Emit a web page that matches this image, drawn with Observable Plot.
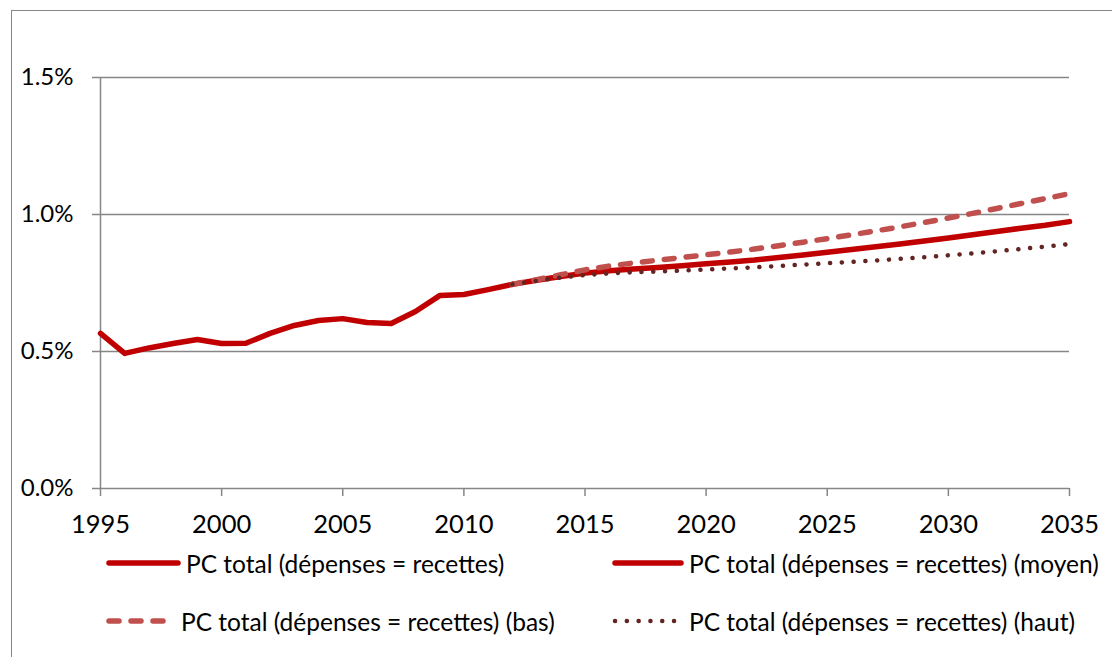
<!DOCTYPE html>
<html>
<head>
<meta charset="utf-8">
<script src="https://cdn.jsdelivr.net/npm/d3@7"></script>
<script src="https://cdn.jsdelivr.net/npm/@observablehq/plot@0.6"></script>
<style>
  html, body { margin: 0; padding: 0; background: #fff; }
  body { width: 1112px; height: 657px; position: relative; overflow: hidden; font-family: Lato, "Open Sans", sans-serif; }
  #frame { position: absolute; left: 11px; top: 10px; width: 1110px; height: 660px; border: 1.5px solid #868686; box-sizing: border-box; }
  #chart { position: absolute; left: 0; top: 0; }
  .leg { position: absolute; display: flex; align-items: center; font-size: 24.5px; color: #000; white-space: nowrap; }
  .leg svg { display: block; margin-right: 4px; }
</style>
</head>
<body>
<div id="frame"></div>
<div id="chart"></div>
<div id="legend"></div>
<script>
// ---- data (values in % of GDP) ----
const yearsHist = [1995,1996,1997,1998,1999,2000,2001,2002,2003,2004,2005,2006,2007,2008,2009,2010,2011,2012];
const valuesHist = [0.566,0.493,0.513,0.529,0.544,0.529,0.530,0.566,0.595,0.613,0.620,0.606,0.602,0.646,0.704,0.708,0.726,0.745];

const yearsProj = [2012,2013,2014,2015,2016,2017,2018,2019,2020,2021,2022,2023,2024,2025,2026,2027,2028,2029,2030,2031,2032,2033,2034,2035];
const valuesMoyen = [0.745,0.760,0.774,0.786,0.795,0.801,0.807,0.813,0.820,0.827,0.834,0.843,0.852,0.862,0.872,0.882,0.892,0.903,0.914,0.926,0.938,0.950,0.961,0.974];
const valuesBas = [0.745,0.762,0.780,0.798,0.812,0.823,0.833,0.843,0.853,0.863,0.874,0.886,0.899,0.912,0.926,0.940,0.955,0.971,0.987,1.004,1.022,1.040,1.058,1.076];
const valuesHaut = [0.745,0.758,0.770,0.779,0.785,0.789,0.792,0.795,0.799,0.803,0.807,0.812,0.817,0.822,0.827,0.832,0.838,0.844,0.851,0.858,0.866,0.874,0.883,0.892];

const xTicks = [1995,2000,2005,2010,2015,2020,2025,2030,2035];
const yTicks = [0, 0.5, 1.0, 1.5];
const gridValues = [0.5, 1.0, 1.5];

const seriesNames = [
  "PC total (dépenses = recettes)",
  "PC total (dépenses = recettes) (moyen)",
  "PC total (dépenses = recettes) (bas)",
  "PC total (dépenses = recettes) (haut)"
];

const hist = yearsHist.map((y, i) => ({year: y, value: valuesHist[i]}));
const moyen = yearsProj.map((y, i) => ({year: y, value: valuesMoyen[i]}));
const bas = yearsProj.map((y, i) => ({year: y, value: valuesBas[i]}));
const haut = yearsProj.map((y, i) => ({year: y, value: valuesHaut[i]}));

const grey = "#868686";
const cSolid = "#C00000";
const cBas = "#C0504D";
const cHaut = "#632523";

const plot = Plot.plot({
  width: 1112,
  height: 540,
  marginLeft: 100,
  marginRight: 43,
  marginTop: 77,
  marginBottom: 52,
  style: { fontFamily: "Lato, 'Open Sans', sans-serif", fontSize: "24px", color: "#000", background: "transparent", overflow: "visible" },
  x: { domain: [1995, 2035] },
  y: { domain: [0, 1.5] },
  marks: [
    Plot.ruleY(gridValues, { stroke: grey, strokeWidth: 1.5 }),
    Plot.ruleX([1995], { y1: 0, y2: 1.5, stroke: grey, strokeWidth: 1.5 }),
    Plot.ruleY([0], { stroke: grey, strokeWidth: 1.5 }),
    Plot.axisX({ ticks: xTicks, tickFormat: d => String(d), tickSize: 8, tickPadding: 18, stroke: grey, strokeWidth: 1.5, fill: "#000", label: null, fontSize: 25.5 }),
    Plot.axisY({ ticks: yTicks, tickFormat: d => d.toFixed(1) + "%", tickSize: 8, tickPadding: 19, stroke: grey, strokeWidth: 1.5, fill: "#000", label: null, fontSize: 24 }),
    Plot.line(hist, { x: "year", y: "value", stroke: cSolid, strokeWidth: 5.5, strokeLinejoin: "round" }),
    Plot.line(moyen, { x: "year", y: "value", stroke: cSolid, strokeWidth: 5.5, strokeLinejoin: "round" }),
    Plot.line(bas, { x: "year", y: "value", stroke: cBas, strokeWidth: 5.5, strokeLinecap: "round", strokeDasharray: "10,12" }),
    Plot.line(haut, { x: "year", y: "value", stroke: cHaut, strokeWidth: 4.5, strokeLinecap: "round", strokeDasharray: "0.1,11.7" })
  ]
});
document.getElementById("chart").appendChild(plot);

// ---- legend ----
const legendItems = [
  { name: seriesNames[0], color: cSolid, dash: null, w: 5.5, left: 105, top: 564, len: 73 },
  { name: seriesNames[1], color: cSolid, dash: null, w: 5.5, left: 611, top: 564, len: 70 },
  { name: seriesNames[2], color: cBas, dash: "10,12", w: 5.5, left: 105, top: 622, len: 68 },
  { name: seriesNames[3], color: cHaut, dash: "0.1,11.7", w: 4.5, left: 611, top: 622, len: 70 }
];
const legend = document.getElementById("legend");
for (const it of legendItems) {
  const div = document.createElement("div");
  div.className = "leg";
  div.style.left = it.left + "px";
  div.style.top = (it.top - 16) + "px";
  div.style.height = "30px";
  const svg = d3.create("svg").attr("width", it.len + 4).attr("height", 10);
  svg.append("line").attr("x1", 4).attr("x2", it.len).attr("y1", 5).attr("y2", 5)
    .attr("stroke", it.color).attr("stroke-width", it.w).attr("stroke-linecap", "round")
    .attr("stroke-dasharray", it.dash);
  div.appendChild(svg.node());
  const span = document.createElement("span");
  span.textContent = it.name;
  div.appendChild(span);
  legend.appendChild(div);
}
</script>
</body>
</html>
